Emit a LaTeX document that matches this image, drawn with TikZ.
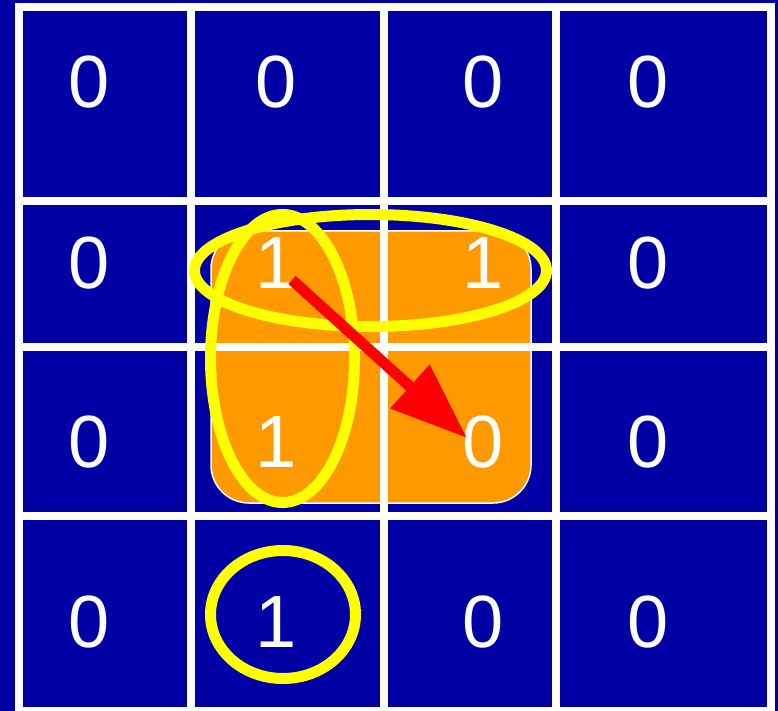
\documentclass[tikz,border=0pt]{standalone}
\usepackage{fontspec}
\setmainfont{Liberation Sans}
\usetikzlibrary{arrows.meta}
\definecolor{bgblue}{RGB}{0,0,164}
\definecolor{kmorange}{RGB}{255,153,0}
\definecolor{kmyellow}{RGB}{255,255,0}
\begin{document}
\begin{tikzpicture}[x=1pt,y=-1pt,
  digit/.style={text=white,font=\fontsize{74}{74}\selectfont,anchor=base,inner sep=0pt},
  gridline/.style={draw=white,line width=8pt},
  loop/.style={draw=kmyellow,line width=11pt},
  flow/.style={draw=red,line width=11pt,-{Triangle[length=77pt,width=56pt]}}]
\fill[bgblue] (0,0) rectangle (778,711);
\useasboundingbox (0,0) rectangle (778,711);
% orange group
\filldraw[fill=kmorange,draw=white,line width=1.5pt,rounded corners=38pt] (211,231) rectangle (531,503);
% grid
\draw[gridline] (19,7) rectangle (771,711);
\draw[gridline] (191,7) -- (191,711);
\draw[gridline] (384,7) -- (384,711);
\draw[gridline] (556,7) -- (556,711);
\draw[gridline] (19,201) -- (771,201);
\draw[gridline] (19,347) -- (771,347);
\draw[gridline] (19,516) -- (771,516);
% digits
\node[digit] (d11) at (89,108) {0};
\node[digit] (d12) at (276,108) {0};
\node[digit] (d13) at (483,108) {0};
\node[digit] (d14) at (648,108) {0};
\node[digit] (d21) at (89,288) {0};
\node[digit] (d22) at (276,288) {1};
\node[digit] (d23) at (483,288) {1};
\node[digit] (d24) at (648,288) {0};
\node[digit] (d31) at (89,467) {0};
\node[digit] (d32) at (276,467) {1};
\node[digit] (d33) at (483,467) {0};
\node[digit] (d34) at (648,467) {0};
\node[digit] (d41) at (89,647) {0};
\node[digit] (d42) at (276,647) {1};
\node[digit] (d43) at (483,647) {0};
\node[digit] (d44) at (648,647) {0};
% loops
\draw[loop] (370.5,270.5) ellipse [x radius=176pt, y radius=56pt];
\draw[loop] (282.5,358.5) ellipse [x radius=72pt, y radius=144pt];
\draw[loop] (283,614.5) ellipse [x radius=72.5pt, y radius=64pt];
% arrow
\coordinate (a1) at (292,280);
\coordinate (a2) at (467,438);
\draw[flow] (a1) -- (a2);
\end{tikzpicture}
\end{document}
